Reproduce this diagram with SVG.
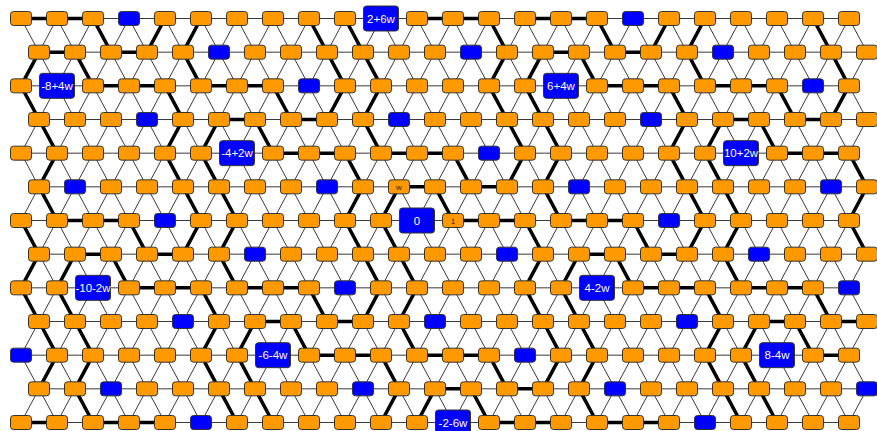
<svg xmlns="http://www.w3.org/2000/svg" width="877" height="431" viewBox="0 0 877 431">
<style>
.thin{fill:none;stroke:#3a3a3a;stroke-width:1}
.thick{fill:none;stroke:#000;stroke-width:3.5}
.t{font-family:"Liberation Sans",Arial,sans-serif;font-size:11.5px;fill:#fff;text-anchor:middle}
.s{font-family:"Liberation Sans",Arial,sans-serif;font-size:8px;fill:#222;text-anchor:middle}
</style>
<defs>
<rect id="o" x="-10.5" y="-7" width="21" height="14" rx="3" fill="#f90" stroke="#333"/>
<rect id="b" x="-10.5" y="-7" width="21" height="14" rx="3" fill="#00f" stroke="#333"/>
<rect id="L" x="-17.5" y="-12.5" width="35" height="25" rx="3" fill="#00f" stroke="#333"/>
<clipPath id="cp"><rect x="21" y="18.5" width="846" height="404"/></clipPath>
</defs>
<rect width="877" height="431" fill="#fff"/>
<g id="connectors">
<path class="thin" d="M21 18.5H849M39 52.17H867M21 85.83H849M39 119.5H867M21 153.17H849M39 186.83H867M21 220.5H849M39 254.17H867M21 287.83H849M39 321.5H867M21 355.17H849M39 388.83H867M21 422.5H849"/>
<g clip-path="url(#cp)">
<path class="thin" d="M-195 18.5l216 404M-159 18.5l216 404M-123 18.5l216 404M-87 18.5l216 404M-51 18.5l216 404M-15 18.5l216 404M21 18.5l216 404M57 18.5l216 404M93 18.5l216 404M129 18.5l216 404M165 18.5l216 404M201 18.5l216 404M237 18.5l216 404M273 18.5l216 404M309 18.5l216 404M345 18.5l216 404M381 18.5l216 404M417 18.5l216 404M453 18.5l216 404M489 18.5l216 404M525 18.5l216 404M561 18.5l216 404M597 18.5l216 404M633 18.5l216 404M669 18.5l216 404M705 18.5l216 404M741 18.5l216 404M777 18.5l216 404M813 18.5l216 404M849 18.5l216 404"/>
<path class="thin" d="M21 18.5l-216 404M57 18.5l-216 404M93 18.5l-216 404M129 18.5l-216 404M165 18.5l-216 404M201 18.5l-216 404M237 18.5l-216 404M273 18.5l-216 404M309 18.5l-216 404M345 18.5l-216 404M381 18.5l-216 404M417 18.5l-216 404M453 18.5l-216 404M489 18.5l-216 404M525 18.5l-216 404M561 18.5l-216 404M597 18.5l-216 404M633 18.5l-216 404M669 18.5l-216 404M705 18.5l-216 404M741 18.5l-216 404M777 18.5l-216 404M813 18.5l-216 404M849 18.5l-216 404M885 18.5l-216 404M921 18.5l-216 404M957 18.5l-216 404M993 18.5l-216 404M1029 18.5l-216 404M1065 18.5l-216 404"/>
</g>
<path class="thick" d="M21 18.5H93M417 18.5H489M525 18.5H597
M93 18.5L111 52.17M309 18.5L327 52.17M345 18.5L363 52.17M489 18.5L507 52.17M597 18.5L615 52.17M813 18.5L831 52.17
M165 18.5L147 52.17M201 18.5L183 52.17M669 18.5L651 52.17M705 18.5L687 52.17
M39 52.17H75M111 52.17H147M543 52.17H579M615 52.17H651
M75 52.17L93 85.83M183 52.17L201 85.83M327 52.17L345 85.83M363 52.17L381 85.83M579 52.17L597 85.83M687 52.17L705 85.83M831 52.17L849 85.83
M39 52.17L21 85.83M507 52.17L489 85.83M543 52.17L525 85.83
M93 85.83H165M201 85.83H273M597 85.83H669M705 85.83H777
M21 85.83L39 119.5M165 85.83L183 119.5M273 85.83L291 119.5M489 85.83L507 119.5M525 85.83L543 119.5M669 85.83L687 119.5M777 85.83L795 119.5
M345 85.83L327 119.5M381 85.83L363 119.5M849 85.83L831 119.5
M219 119.5H255M291 119.5H327M723 119.5H759M795 119.5H831
M39 119.5L57 153.17M255 119.5L273 153.17M363 119.5L381 153.17M507 119.5L525 153.17M543 119.5L561 153.17M759 119.5L777 153.17
M183 119.5L165 153.17M219 119.5L201 153.17M687 119.5L669 153.17M723 119.5L705 153.17
M273 153.17H345M381 153.17H453M777 153.17H849
M165 153.17L183 186.83M201 153.17L219 186.83M345 153.17L363 186.83M453 153.17L471 186.83M669 153.17L687 186.83M705 153.17L723 186.83M849 153.17L867 186.83
M57 153.17L39 186.83M525 153.17L507 186.83M561 153.17L543 186.83
M399 186.83H435M471 186.83H507
M39 186.83L57 220.5M183 186.83L201 220.5M219 186.83L237 220.5M435 186.83L453 220.5M543 186.83L561 220.5M687 186.83L705 220.5M723 186.83L741 220.5
M363 186.83L345 220.5M399 186.83L381 220.5M867 186.83L849 220.5
M57 220.5H129M453 220.5H525M561 220.5H633
M21 220.5L39 254.17M129 220.5L147 254.17M345 220.5L363 254.17M381 220.5L399 254.17M525 220.5L543 254.17M633 220.5L651 254.17M849 220.5L867 254.17
M201 220.5L183 254.17M237 220.5L219 254.17M705 220.5L687 254.17M741 220.5L723 254.17
M75 254.17H111M147 254.17H183M579 254.17H615M651 254.17H687
M111 254.17L129 287.83M219 254.17L237 287.83M363 254.17L381 287.83M399 254.17L417 287.83M615 254.17L633 287.83M723 254.17L741 287.83
M39 254.17L21 287.83M75 254.17L57 287.83M543 254.17L525 287.83M579 254.17L561 287.83
M129 287.83H201M237 287.83H309M633 287.83H705M741 287.83H813
M21 287.83L39 321.5M57 287.83L75 321.5M201 287.83L219 321.5M309 287.83L327 321.5M525 287.83L543 321.5M561 287.83L579 321.5M705 287.83L723 321.5M813 287.83L831 321.5
M381 287.83L363 321.5M417 287.83L399 321.5
M255 321.5H291M327 321.5H363M759 321.5H795M831 321.5H867
M39 321.5L57 355.17M75 321.5L93 355.17M291 321.5L309 355.17M399 321.5L417 355.17M543 321.5L561 355.17M579 321.5L597 355.17M795 321.5L813 355.17
M219 321.5L201 355.17M255 321.5L237 355.17M723 321.5L705 355.17M759 321.5L741 355.17
M309 355.17H381M417 355.17H489M813 355.17H849
M201 355.17L219 388.83M237 355.17L255 388.83M381 355.17L399 388.83M489 355.17L507 388.83M705 355.17L723 388.83M741 355.17L759 388.83
M57 355.17L39 388.83M93 355.17L75 388.83M561 355.17L543 388.83M597 355.17L579 388.83
M435 388.83H471M507 388.83H543
M75 388.83L93 422.5M219 388.83L237 422.5M255 388.83L273 422.5M471 388.83L489 422.5M579 388.83L597 422.5M723 388.83L741 422.5M759 388.83L777 422.5
M399 388.83L381 422.5M435 388.83L417 422.5
M21 422.5H57M93 422.5H165M489 422.5H561M597 422.5H669"/>
</g>
<g id="nodes">
<g id="row0" transform="translate(0 18.5)">
<g id="n0_0"><use href="#o" x="21"/></g><g id="n0_1"><use href="#o" x="57"/></g><g id="n0_2"><use href="#o" x="93"/></g><g id="n0_3"><use href="#b" x="129"/></g><g id="n0_4"><use href="#o" x="165"/></g><g id="n0_5"><use href="#o" x="201"/></g><g id="n0_6"><use href="#o" x="237"/></g><g id="n0_7"><use href="#o" x="273"/></g><g id="n0_8"><use href="#o" x="309"/></g><g id="n0_9"><use href="#o" x="345"/></g><g id="n0_10"><use href="#L" x="381"/><text class="t" x="381" y="4">2+6w</text></g><g id="n0_11"><use href="#o" x="417"/></g><g id="n0_12"><use href="#o" x="453"/></g><g id="n0_13"><use href="#o" x="489"/></g><g id="n0_14"><use href="#o" x="525"/></g><g id="n0_15"><use href="#o" x="561"/></g><g id="n0_16"><use href="#o" x="597"/></g><g id="n0_17"><use href="#b" x="633"/></g><g id="n0_18"><use href="#o" x="669"/></g><g id="n0_19"><use href="#o" x="705"/></g><g id="n0_20"><use href="#o" x="741"/></g><g id="n0_21"><use href="#o" x="777"/></g><g id="n0_22"><use href="#o" x="813"/></g><g id="n0_23"><use href="#o" x="849"/></g>
</g>
<g id="row1" transform="translate(0 52.17)">
<g id="n1_0"><use href="#o" x="39"/></g><g id="n1_1"><use href="#o" x="75"/></g><g id="n1_2"><use href="#o" x="111"/></g><g id="n1_3"><use href="#o" x="147"/></g><g id="n1_4"><use href="#o" x="183"/></g><g id="n1_5"><use href="#b" x="219"/></g><g id="n1_6"><use href="#o" x="255"/></g><g id="n1_7"><use href="#o" x="291"/></g><g id="n1_8"><use href="#o" x="327"/></g><g id="n1_9"><use href="#o" x="363"/></g><g id="n1_10"><use href="#o" x="399"/></g><g id="n1_11"><use href="#o" x="435"/></g><g id="n1_12"><use href="#b" x="471"/></g><g id="n1_13"><use href="#o" x="507"/></g><g id="n1_14"><use href="#o" x="543"/></g><g id="n1_15"><use href="#o" x="579"/></g><g id="n1_16"><use href="#o" x="615"/></g><g id="n1_17"><use href="#o" x="651"/></g><g id="n1_18"><use href="#o" x="687"/></g><g id="n1_19"><use href="#b" x="723"/></g><g id="n1_20"><use href="#o" x="759"/></g><g id="n1_21"><use href="#o" x="795"/></g><g id="n1_22"><use href="#o" x="831"/></g><g id="n1_23"><use href="#o" x="867"/></g>
</g>
<g id="row2" transform="translate(0 85.83)">
<g id="n2_0"><use href="#o" x="21"/></g><g id="n2_1"><use href="#L" x="57"/><text class="t" x="57" y="4">-8+4w</text></g><g id="n2_2"><use href="#o" x="93"/></g><g id="n2_3"><use href="#o" x="129"/></g><g id="n2_4"><use href="#o" x="165"/></g><g id="n2_5"><use href="#o" x="201"/></g><g id="n2_6"><use href="#o" x="237"/></g><g id="n2_7"><use href="#o" x="273"/></g><g id="n2_8"><use href="#b" x="309"/></g><g id="n2_9"><use href="#o" x="345"/></g><g id="n2_10"><use href="#o" x="381"/></g><g id="n2_11"><use href="#o" x="417"/></g><g id="n2_12"><use href="#o" x="453"/></g><g id="n2_13"><use href="#o" x="489"/></g><g id="n2_14"><use href="#o" x="525"/></g><g id="n2_15"><use href="#L" x="561"/><text class="t" x="561" y="4">6+4w</text></g><g id="n2_16"><use href="#o" x="597"/></g><g id="n2_17"><use href="#o" x="633"/></g><g id="n2_18"><use href="#o" x="669"/></g><g id="n2_19"><use href="#o" x="705"/></g><g id="n2_20"><use href="#o" x="741"/></g><g id="n2_21"><use href="#o" x="777"/></g><g id="n2_22"><use href="#b" x="813"/></g><g id="n2_23"><use href="#o" x="849"/></g>
</g>
<g id="row3" transform="translate(0 119.5)">
<g id="n3_0"><use href="#o" x="39"/></g><g id="n3_1"><use href="#o" x="75"/></g><g id="n3_2"><use href="#o" x="111"/></g><g id="n3_3"><use href="#b" x="147"/></g><g id="n3_4"><use href="#o" x="183"/></g><g id="n3_5"><use href="#o" x="219"/></g><g id="n3_6"><use href="#o" x="255"/></g><g id="n3_7"><use href="#o" x="291"/></g><g id="n3_8"><use href="#o" x="327"/></g><g id="n3_9"><use href="#o" x="363"/></g><g id="n3_10"><use href="#b" x="399"/></g><g id="n3_11"><use href="#o" x="435"/></g><g id="n3_12"><use href="#o" x="471"/></g><g id="n3_13"><use href="#o" x="507"/></g><g id="n3_14"><use href="#o" x="543"/></g><g id="n3_15"><use href="#o" x="579"/></g><g id="n3_16"><use href="#o" x="615"/></g><g id="n3_17"><use href="#b" x="651"/></g><g id="n3_18"><use href="#o" x="687"/></g><g id="n3_19"><use href="#o" x="723"/></g><g id="n3_20"><use href="#o" x="759"/></g><g id="n3_21"><use href="#o" x="795"/></g><g id="n3_22"><use href="#o" x="831"/></g><g id="n3_23"><use href="#o" x="867"/></g>
</g>
<g id="row4" transform="translate(0 153.17)">
<g id="n4_0"><use href="#o" x="21"/></g><g id="n4_1"><use href="#o" x="57"/></g><g id="n4_2"><use href="#o" x="93"/></g><g id="n4_3"><use href="#o" x="129"/></g><g id="n4_4"><use href="#o" x="165"/></g><g id="n4_5"><use href="#o" x="201"/></g><g id="n4_6"><use href="#L" x="237"/><text class="t" x="237" y="4">-4+2w</text></g><g id="n4_7"><use href="#o" x="273"/></g><g id="n4_8"><use href="#o" x="309"/></g><g id="n4_9"><use href="#o" x="345"/></g><g id="n4_10"><use href="#o" x="381"/></g><g id="n4_11"><use href="#o" x="417"/></g><g id="n4_12"><use href="#o" x="453"/></g><g id="n4_13"><use href="#b" x="489"/></g><g id="n4_14"><use href="#o" x="525"/></g><g id="n4_15"><use href="#o" x="561"/></g><g id="n4_16"><use href="#o" x="597"/></g><g id="n4_17"><use href="#o" x="633"/></g><g id="n4_18"><use href="#o" x="669"/></g><g id="n4_19"><use href="#o" x="705"/></g><g id="n4_20"><use href="#L" x="741"/><text class="t" x="741" y="4">10+2w</text></g><g id="n4_21"><use href="#o" x="777"/></g><g id="n4_22"><use href="#o" x="813"/></g><g id="n4_23"><use href="#o" x="849"/></g>
</g>
<g id="row5" transform="translate(0 186.83)">
<g id="n5_0"><use href="#o" x="39"/></g><g id="n5_1"><use href="#b" x="75"/></g><g id="n5_2"><use href="#o" x="111"/></g><g id="n5_3"><use href="#o" x="147"/></g><g id="n5_4"><use href="#o" x="183"/></g><g id="n5_5"><use href="#o" x="219"/></g><g id="n5_6"><use href="#o" x="255"/></g><g id="n5_7"><use href="#o" x="291"/></g><g id="n5_8"><use href="#b" x="327"/></g><g id="n5_9"><use href="#o" x="363"/></g><g id="n5_10"><use href="#o" x="399"/><text class="s" x="399" y="3">w</text></g><g id="n5_11"><use href="#o" x="435"/></g><g id="n5_12"><use href="#o" x="471"/></g><g id="n5_13"><use href="#o" x="507"/></g><g id="n5_14"><use href="#o" x="543"/></g><g id="n5_15"><use href="#b" x="579"/></g><g id="n5_16"><use href="#o" x="615"/></g><g id="n5_17"><use href="#o" x="651"/></g><g id="n5_18"><use href="#o" x="687"/></g><g id="n5_19"><use href="#o" x="723"/></g><g id="n5_20"><use href="#o" x="759"/></g><g id="n5_21"><use href="#o" x="795"/></g><g id="n5_22"><use href="#b" x="831"/></g><g id="n5_23"><use href="#o" x="867"/></g>
</g>
<g id="row6" transform="translate(0 220.5)">
<g id="n6_0"><use href="#o" x="21"/></g><g id="n6_1"><use href="#o" x="57"/></g><g id="n6_2"><use href="#o" x="93"/></g><g id="n6_3"><use href="#o" x="129"/></g><g id="n6_4"><use href="#b" x="165"/></g><g id="n6_5"><use href="#o" x="201"/></g><g id="n6_6"><use href="#o" x="237"/></g><g id="n6_7"><use href="#o" x="273"/></g><g id="n6_8"><use href="#o" x="309"/></g><g id="n6_9"><use href="#o" x="345"/></g><g id="n6_10"><use href="#o" x="381"/></g><g id="n6_11"><use href="#L" x="417"/><text class="t" x="417" y="4">0</text></g><g id="n6_12"><use href="#o" x="453"/><text class="s" x="453" y="3">1</text></g><g id="n6_13"><use href="#o" x="489"/></g><g id="n6_14"><use href="#o" x="525"/></g><g id="n6_15"><use href="#o" x="561"/></g><g id="n6_16"><use href="#o" x="597"/></g><g id="n6_17"><use href="#o" x="633"/></g><g id="n6_18"><use href="#b" x="669"/></g><g id="n6_19"><use href="#o" x="705"/></g><g id="n6_20"><use href="#o" x="741"/></g><g id="n6_21"><use href="#o" x="777"/></g><g id="n6_22"><use href="#o" x="813"/></g><g id="n6_23"><use href="#o" x="849"/></g>
</g>
<g id="row7" transform="translate(0 254.17)">
<g id="n7_0"><use href="#o" x="39"/></g><g id="n7_1"><use href="#o" x="75"/></g><g id="n7_2"><use href="#o" x="111"/></g><g id="n7_3"><use href="#o" x="147"/></g><g id="n7_4"><use href="#o" x="183"/></g><g id="n7_5"><use href="#o" x="219"/></g><g id="n7_6"><use href="#b" x="255"/></g><g id="n7_7"><use href="#o" x="291"/></g><g id="n7_8"><use href="#o" x="327"/></g><g id="n7_9"><use href="#o" x="363"/></g><g id="n7_10"><use href="#o" x="399"/></g><g id="n7_11"><use href="#o" x="435"/></g><g id="n7_12"><use href="#o" x="471"/></g><g id="n7_13"><use href="#b" x="507"/></g><g id="n7_14"><use href="#o" x="543"/></g><g id="n7_15"><use href="#o" x="579"/></g><g id="n7_16"><use href="#o" x="615"/></g><g id="n7_17"><use href="#o" x="651"/></g><g id="n7_18"><use href="#o" x="687"/></g><g id="n7_19"><use href="#o" x="723"/></g><g id="n7_20"><use href="#b" x="759"/></g><g id="n7_21"><use href="#o" x="795"/></g><g id="n7_22"><use href="#o" x="831"/></g><g id="n7_23"><use href="#o" x="867"/></g>
</g>
<g id="row8" transform="translate(0 287.83)">
<g id="n8_0"><use href="#o" x="21"/></g><g id="n8_1"><use href="#o" x="57"/></g><g id="n8_2"><use href="#L" x="93"/><text class="t" x="93" y="4">-10-2w</text></g><g id="n8_3"><use href="#o" x="129"/></g><g id="n8_4"><use href="#o" x="165"/></g><g id="n8_5"><use href="#o" x="201"/></g><g id="n8_6"><use href="#o" x="237"/></g><g id="n8_7"><use href="#o" x="273"/></g><g id="n8_8"><use href="#o" x="309"/></g><g id="n8_9"><use href="#b" x="345"/></g><g id="n8_10"><use href="#o" x="381"/></g><g id="n8_11"><use href="#o" x="417"/></g><g id="n8_12"><use href="#o" x="453"/></g><g id="n8_13"><use href="#o" x="489"/></g><g id="n8_14"><use href="#o" x="525"/></g><g id="n8_15"><use href="#o" x="561"/></g><g id="n8_16"><use href="#L" x="597"/><text class="t" x="597" y="4">4-2w</text></g><g id="n8_17"><use href="#o" x="633"/></g><g id="n8_18"><use href="#o" x="669"/></g><g id="n8_19"><use href="#o" x="705"/></g><g id="n8_20"><use href="#o" x="741"/></g><g id="n8_21"><use href="#o" x="777"/></g><g id="n8_22"><use href="#o" x="813"/></g><g id="n8_23"><use href="#b" x="849"/></g>
</g>
<g id="row9" transform="translate(0 321.5)">
<g id="n9_0"><use href="#o" x="39"/></g><g id="n9_1"><use href="#o" x="75"/></g><g id="n9_2"><use href="#o" x="111"/></g><g id="n9_3"><use href="#o" x="147"/></g><g id="n9_4"><use href="#b" x="183"/></g><g id="n9_5"><use href="#o" x="219"/></g><g id="n9_6"><use href="#o" x="255"/></g><g id="n9_7"><use href="#o" x="291"/></g><g id="n9_8"><use href="#o" x="327"/></g><g id="n9_9"><use href="#o" x="363"/></g><g id="n9_10"><use href="#o" x="399"/></g><g id="n9_11"><use href="#b" x="435"/></g><g id="n9_12"><use href="#o" x="471"/></g><g id="n9_13"><use href="#o" x="507"/></g><g id="n9_14"><use href="#o" x="543"/></g><g id="n9_15"><use href="#o" x="579"/></g><g id="n9_16"><use href="#o" x="615"/></g><g id="n9_17"><use href="#o" x="651"/></g><g id="n9_18"><use href="#b" x="687"/></g><g id="n9_19"><use href="#o" x="723"/></g><g id="n9_20"><use href="#o" x="759"/></g><g id="n9_21"><use href="#o" x="795"/></g><g id="n9_22"><use href="#o" x="831"/></g><g id="n9_23"><use href="#o" x="867"/></g>
</g>
<g id="row10" transform="translate(0 355.17)">
<g id="n10_0"><use href="#b" x="21"/></g><g id="n10_1"><use href="#o" x="57"/></g><g id="n10_2"><use href="#o" x="93"/></g><g id="n10_3"><use href="#o" x="129"/></g><g id="n10_4"><use href="#o" x="165"/></g><g id="n10_5"><use href="#o" x="201"/></g><g id="n10_6"><use href="#o" x="237"/></g><g id="n10_7"><use href="#L" x="273"/><text class="t" x="273" y="4">-6-4w</text></g><g id="n10_8"><use href="#o" x="309"/></g><g id="n10_9"><use href="#o" x="345"/></g><g id="n10_10"><use href="#o" x="381"/></g><g id="n10_11"><use href="#o" x="417"/></g><g id="n10_12"><use href="#o" x="453"/></g><g id="n10_13"><use href="#o" x="489"/></g><g id="n10_14"><use href="#b" x="525"/></g><g id="n10_15"><use href="#o" x="561"/></g><g id="n10_16"><use href="#o" x="597"/></g><g id="n10_17"><use href="#o" x="633"/></g><g id="n10_18"><use href="#o" x="669"/></g><g id="n10_19"><use href="#o" x="705"/></g><g id="n10_20"><use href="#o" x="741"/></g><g id="n10_21"><use href="#L" x="777"/><text class="t" x="777" y="4">8-4w</text></g><g id="n10_22"><use href="#o" x="813"/></g><g id="n10_23"><use href="#o" x="849"/></g>
</g>
<g id="row11" transform="translate(0 388.83)">
<g id="n11_0"><use href="#o" x="39"/></g><g id="n11_1"><use href="#o" x="75"/></g><g id="n11_2"><use href="#b" x="111"/></g><g id="n11_3"><use href="#o" x="147"/></g><g id="n11_4"><use href="#o" x="183"/></g><g id="n11_5"><use href="#o" x="219"/></g><g id="n11_6"><use href="#o" x="255"/></g><g id="n11_7"><use href="#o" x="291"/></g><g id="n11_8"><use href="#o" x="327"/></g><g id="n11_9"><use href="#b" x="363"/></g><g id="n11_10"><use href="#o" x="399"/></g><g id="n11_11"><use href="#o" x="435"/></g><g id="n11_12"><use href="#o" x="471"/></g><g id="n11_13"><use href="#o" x="507"/></g><g id="n11_14"><use href="#o" x="543"/></g><g id="n11_15"><use href="#o" x="579"/></g><g id="n11_16"><use href="#b" x="615"/></g><g id="n11_17"><use href="#o" x="651"/></g><g id="n11_18"><use href="#o" x="687"/></g><g id="n11_19"><use href="#o" x="723"/></g><g id="n11_20"><use href="#o" x="759"/></g><g id="n11_21"><use href="#o" x="795"/></g><g id="n11_22"><use href="#o" x="831"/></g><g id="n11_23"><use href="#b" x="867"/></g>
</g>
<g id="row12" transform="translate(0 422.5)">
<g id="n12_0"><use href="#o" x="21"/></g><g id="n12_1"><use href="#o" x="57"/></g><g id="n12_2"><use href="#o" x="93"/></g><g id="n12_3"><use href="#o" x="129"/></g><g id="n12_4"><use href="#o" x="165"/></g><g id="n12_5"><use href="#b" x="201"/></g><g id="n12_6"><use href="#o" x="237"/></g><g id="n12_7"><use href="#o" x="273"/></g><g id="n12_8"><use href="#o" x="309"/></g><g id="n12_9"><use href="#o" x="345"/></g><g id="n12_10"><use href="#o" x="381"/></g><g id="n12_11"><use href="#o" x="417"/></g><g id="n12_12"><use href="#L" x="453"/><text class="t" x="453" y="4">-2-6w</text></g><g id="n12_13"><use href="#o" x="489"/></g><g id="n12_14"><use href="#o" x="525"/></g><g id="n12_15"><use href="#o" x="561"/></g><g id="n12_16"><use href="#o" x="597"/></g><g id="n12_17"><use href="#o" x="633"/></g><g id="n12_18"><use href="#o" x="669"/></g><g id="n12_19"><use href="#b" x="705"/></g><g id="n12_20"><use href="#o" x="741"/></g><g id="n12_21"><use href="#o" x="777"/></g><g id="n12_22"><use href="#o" x="813"/></g><g id="n12_23"><use href="#o" x="849"/></g>
</g>
</g>
</svg>
